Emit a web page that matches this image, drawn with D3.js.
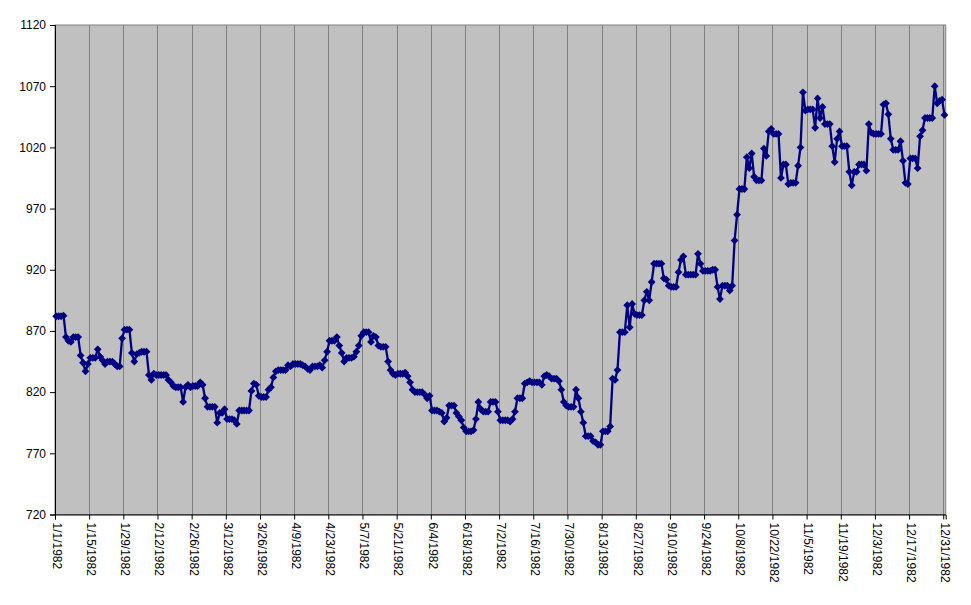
<!DOCTYPE html>
<html>
<head>
<meta charset="utf-8">
<script src="https://cdn.jsdelivr.net/npm/d3@7"></script>
<style>
  html, body { margin: 0; padding: 0; background: #ffffff; }
  svg { display: block; }
  text { font-family: "Liberation Sans", Arial, sans-serif; font-size: 12px; fill: #000; }
</style>
</head>
<body>
<svg id="chart" width="971" height="605"></svg>
<script>
// Daily closing values (weekends / holidays carry the previous value)
const jan = [882,882,882,882.5,865,862,861,865,865,865,850,844,837,843,848,848,848,855,849,846,843,845,845,845,843,841,841,864,871,871,871];
const feb = [852,845,851,852,853,853,853,834,830,835,834,834,834,834,834,830,828,825,824,824,824,812,824,826,824,825,825,825];
const mar = [828,826,815,808,808,808,808,795,803,803,806,798,798,798,797,794,805,805,805,805,805,821,827,826,817,816,816,816,822,824,832];
const apr = [837,838,838,838,838,842,841,843,843,843,843,842,841,839,838,841,841,841,842,840,846,853,862,862,862,865,858,852,845,848];
const may = [848,848,849,853,858,866,869,869,869,861,866,865,858,857,857,857,845,838,835,834,835,835,835,836,833,828,822,820,820,820,820];
const jun = [818,815,817,805,805,805,804,803,796,799,809,809,809,803,800,797,791,788,788,788,789,798,812,806,804,804,804,812,812,812];
const jul = [804,797,797,797,797,796,798,804,815,815,815,827,828,829,828,828,828,828,826,833,834,833,831,831,831,829,822,812,809,808,808];
const aug = [808,822,815,804,795,784,784,784,780,779,777,777,788,788,788,792,831,830,838,869,869,869,891,873,892,884,883,883,883,895,902];
const sep = [895,910,925,925,925,925,913,912,907,906,906,906,918,928,931,916,916,916,916,916,933,925,919,919,919,919,920,920,906,896];
const oct = [907,907,907,903,907,944,965,986,986,986,1012,1003,1015,996,993,993,993,1019,1013,1033,1035,1031,1031,1031,995,1006,1006,990,991,991,991];
const nov = [1005,1020,1065,1050,1051,1051,1051,1036,1060,1044,1053,1039,1039,1039,1021,1008,1027,1033,1021,1021,1021,1000,989,1000,1000,1006,1006,1006,1001,1039];
const dec = [1032,1031,1031,1031,1031,1055,1056,1047,1027,1018,1018,1018,1025,1009,991,990,1011,1011,1011,1003,1029,1034,1044,1044,1044,1044,1070,1056,1058,1059,1046.5];

const months = [jan, feb, mar, apr, may, jun, jul, aug, sep, oct, nov, dec];
const year = 1982;

const xTickLabels = ["1/1/1982","1/15/1982","1/29/1982","2/12/1982","2/26/1982","3/12/1982","3/26/1982",
  "4/9/1982","4/23/1982","5/7/1982","5/21/1982","6/4/1982","6/18/1982","7/2/1982","7/16/1982",
  "7/30/1982","8/13/1982","8/27/1982","9/10/1982","9/24/1982","10/8/1982","10/22/1982","11/5/1982",
  "11/19/1982","12/3/1982","12/17/1982","12/31/1982"];
const yTicks = [720, 770, 820, 870, 920, 970, 1020, 1070, 1120];

(function () {
  const data = [];
  months.forEach((vals, m) => {
    vals.forEach((v, i) => data.push({ date: new Date(Date.UTC(year, m, i + 1, 12)), value: v }));
  });

  const svg = d3.select("#chart");
  svg.append("rect").attr("width", 971).attr("height", 605).attr("fill", "#ffffff");

  const pL = 55, pR = 945.7, pT = 25, pB = 514.5;

  const x = d3.scaleUtc()
    .domain([new Date(Date.UTC(year, 0, 1)), new Date(Date.UTC(year + 1, 0, 1))])
    .range([pL, pR]);
  const y = d3.scaleLinear().domain([720, 1120]).range([pB, pT]);

  const parseLabel = s => { const p = s.split("/").map(Number); return new Date(Date.UTC(p[2], p[0] - 1, p[1])); };
  const tickDates = xTickLabels.map(parseLabel);

  svg.append("rect")
    .attr("x", pL).attr("y", pT)
    .attr("width", pR - pL).attr("height", pB - pT)
    .attr("fill", "#C0C0C0").attr("stroke", "#808080").attr("stroke-width", 1);

  svg.append("g").selectAll("line").data(tickDates.slice(1)).join("line")
    .attr("x1", d => Math.round(x(d)) + 0.5).attr("x2", d => Math.round(x(d)) + 0.5)
    .attr("y1", pT).attr("y2", pB)
    .attr("stroke", "#808080").attr("stroke-width", 1);

  const yAxis = d3.axisLeft(y).tickValues(yTicks).tickSize(5).tickPadding(4).tickFormat(d3.format("d"));
  const gy = svg.append("g").attr("transform", `translate(${pL},0)`).call(yAxis);
  gy.select(".domain").attr("stroke", "#000");
  gy.selectAll(".tick line").attr("stroke", "#000");
  gy.selectAll("text").attr("font-family", "'Liberation Sans', Arial, sans-serif").attr("font-size", 12).attr("fill", "#000");

  const xAxis = d3.axisBottom(x).tickValues(tickDates).tickSize(5).tickFormat((d, i) => xTickLabels[i]);
  const gx = svg.append("g").attr("transform", `translate(0,${pB})`).call(xAxis);
  gx.select(".domain").attr("stroke", "#000");
  gx.selectAll(".tick line").attr("stroke", "#000");
  gx.selectAll("text")
    .attr("font-family", "'Liberation Sans', Arial, sans-serif").attr("font-size", 12).attr("fill", "#000")
    .attr("text-anchor", "start")
    .attr("transform", "translate(0,8) rotate(90)")
    .attr("x", 0).attr("y", 0).attr("dy", "0.22em");

  const line = d3.line().x(d => x(d.date)).y(d => y(d.value));
  svg.append("path").datum(data)
    .attr("d", line).attr("fill", "none")
    .attr("stroke", "#000080").attr("stroke-width", 2.3).attr("stroke-linejoin", "round");

  svg.append("g").selectAll("path").data(data).join("path")
    .attr("transform", d => `translate(${x(d.date)},${y(d.value)})`)
    .attr("d", "M0,-3.9L3.9,0L0,3.9L-3.9,0Z")
    .attr("fill", "#000080");
})();
</script>
</body>
</html>
